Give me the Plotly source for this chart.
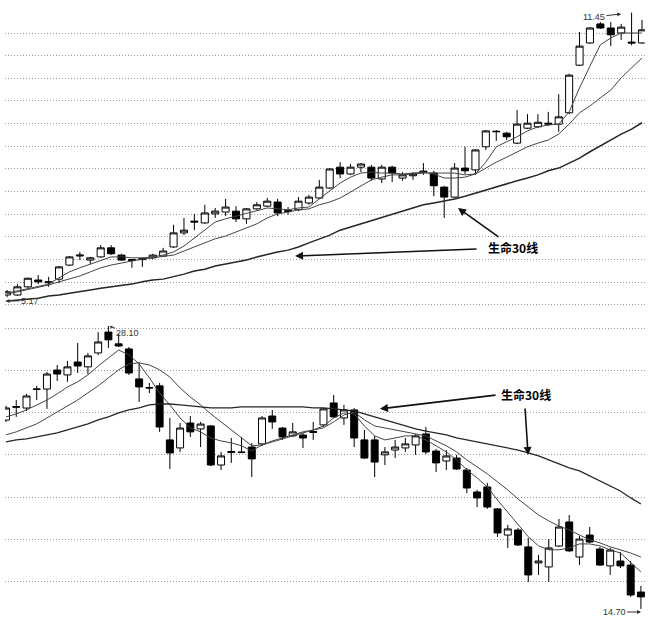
import plotly.graph_objects as go

# ---------------- top panel (uptrend) ----------------
top_open = [5.22, 5.22, 5.40, 5.55, 5.49, 5.57, 5.88, 6.08, 5.99, 6.06,
            6.26, 6.10, 5.98, 6.00, 6.04, 6.08, 6.28, 6.59, 6.85, 6.81,
            7.01, 7.05, 7.07, 6.90, 7.12, 7.18, 7.27, 7.06, 7.10, 7.25,
            7.36, 7.58, 8.04, 7.89, 8.04, 8.04, 7.78, 8.04, 7.80, 7.85,
            7.93, 7.91, 7.60, 7.38, 8.02, 7.98, 8.49, 8.82, 8.79, 8.57,
            8.90, 8.93, 9.01, 8.99, 9.24, 10.29, 10.78, 11.20, 11.11, 11.00,
            10.80, 10.78]
top_high = [5.33, 5.46, 5.60, 5.66, 5.62, 5.86, 6.08, 6.17, 6.06, 6.32,
            6.32, 6.13, 6.01, 6.04, 6.13, 6.26, 6.77, 6.92, 7.01, 7.21,
            7.14, 7.34, 7.18, 7.14, 7.27, 7.36, 7.34, 7.16, 7.38, 7.43,
            7.76, 8.02, 8.15, 8.11, 8.13, 8.09, 8.09, 8.07, 7.93, 7.93,
            8.13, 7.96, 7.63, 8.13, 8.49, 8.44, 8.86, 8.86, 8.82, 9.30,
            9.21, 9.21, 9.26, 9.65, 10.10, 11.02, 11.13, 11.24, 11.24, 11.20,
            11.45, 11.29]
top_low = [5.17, 5.20, 5.37, 5.46, 5.40, 5.48, 5.86, 5.99, 5.90, 6.04,
           6.10, 5.97, 5.82, 5.84, 6.01, 6.06, 6.26, 6.54, 6.65, 6.79,
           6.92, 6.96, 6.83, 6.79, 7.10, 7.16, 6.96, 6.99, 7.07, 7.21,
           7.34, 7.56, 7.80, 7.87, 7.93, 7.74, 7.69, 7.71, 7.74, 7.76,
           7.87, 7.40, 6.92, 7.36, 7.89, 7.87, 8.42, 8.62, 8.64, 8.55,
           8.88, 8.90, 8.95, 8.82, 9.21, 10.27, 10.76, 11.09, 10.71, 10.85,
           10.73, 10.76]
top_close = [5.29, 5.40, 5.59, 5.51, 5.51, 5.84, 6.06, 6.10, 6.04, 6.26,
             6.13, 5.99, 6.00, 6.02, 6.10, 6.19, 6.59, 6.65, 6.83, 7.03,
             7.07, 7.16, 6.90, 7.12, 7.21, 7.29, 7.03, 7.08, 7.29, 7.38,
             7.60, 8.00, 7.89, 8.04, 8.11, 7.80, 8.04, 7.91, 7.87, 7.89,
             7.95, 7.63, 7.38, 8.02, 7.96, 8.42, 8.84, 8.83, 8.71, 8.99,
             9.01, 9.03, 8.99, 9.15, 10.07, 10.71, 11.11, 11.11, 10.96, 11.13,
             10.78, 11.07]
top_ma5 = [5.26, 5.31, 5.37, 5.42, 5.46, 5.60, 5.73, 5.82, 5.90, 5.99,
           6.06, 6.06, 6.04, 6.04, 6.06, 6.10, 6.17, 6.30, 6.48, 6.65,
           6.83, 6.90, 6.96, 7.01, 7.07, 7.14, 7.12, 7.10, 7.14, 7.16,
           7.34, 7.51, 7.69, 7.82, 7.91, 7.93, 7.91, 7.91, 7.89, 7.91,
           7.93, 7.89, 7.80, 7.80, 7.82, 7.89, 8.15, 8.49, 8.60, 8.71,
           8.84, 8.93, 8.97, 8.99, 9.26, 9.79, 10.27, 10.74, 10.89, 11.00,
           11.00, 11.00]
top_ma10 = [5.24, 5.29, 5.35, 5.40, 5.44, 5.51, 5.57, 5.64, 5.73, 5.82,
            5.88, 5.93, 5.97, 6.01, 6.04, 6.06, 6.10, 6.19, 6.28, 6.37,
            6.46, 6.52, 6.61, 6.70, 6.79, 6.92, 7.01, 7.05, 7.10, 7.12,
            7.21, 7.27, 7.36, 7.49, 7.63, 7.76, 7.82, 7.87, 7.87, 7.89,
            7.91, 7.91, 7.91, 7.91, 7.87, 7.89, 8.02, 8.15, 8.26, 8.38,
            8.49, 8.57, 8.64, 8.77, 8.99, 9.24, 9.39, 9.57, 9.74, 10.01,
            10.23, 10.45]
top_ma30 = [5.09, 5.11, 5.13, 5.15, 5.20, 5.22, 5.26, 5.29, 5.33, 5.37,
            5.40, 5.44, 5.46, 5.51, 5.55, 5.57, 5.62, 5.68, 5.75, 5.79,
            5.86, 5.90, 5.95, 5.99, 6.06, 6.12, 6.17, 6.21, 6.28, 6.37,
            6.46, 6.54, 6.65, 6.72, 6.79, 6.87, 6.94, 7.01, 7.07, 7.14,
            7.21, 7.25, 7.29, 7.34, 7.40, 7.47, 7.54, 7.60, 7.67, 7.74,
            7.80, 7.87, 7.96, 8.02, 8.13, 8.24, 8.38, 8.51, 8.64, 8.77,
            8.88, 9.02]
top_grid = [5.0, 5.5, 6.0, 6.5, 7.0, 7.5, 8.0, 8.5, 9.0, 9.5, 10.0, 10.5, 11.0]

# ---------------- bottom panel (downtrend) ----------------
bot_open = [23.65, 24.25, 24.22, 25.10, 25.12, 26.02, 25.79, 26.40, 26.17, 26.83,
            27.82, 27.26, 27.02, 25.60, 25.19, 25.27, 22.71, 22.33, 23.51, 23.23,
            23.37, 21.52, 22.11, 22.14, 22.37, 22.52, 23.84, 23.27, 22.90, 22.94,
            23.06, 23.42, 24.46, 23.75, 24.13, 22.71, 22.71, 22.00, 22.23, 22.33,
            22.47, 22.99, 22.18, 21.71, 21.85, 21.28, 20.24, 20.48, 19.44, 18.20,
            18.44, 17.64, 16.88, 16.69, 17.68, 18.82, 17.16, 18.20, 17.54, 16.74,
            16.97, 16.78, 15.50]
bot_high = [24.32, 24.60, 24.89, 25.27, 25.93, 26.26, 26.45, 27.30, 26.83, 27.82,
            28.10, 27.73, 27.11, 26.36, 25.41, 25.41, 23.75, 23.51, 23.84, 23.56,
            23.42, 22.14, 22.80, 22.85, 22.56, 23.84, 24.13, 23.32, 23.51, 23.04,
            23.56, 24.22, 24.84, 24.37, 24.22, 23.18, 22.90, 22.37, 22.71, 22.80,
            22.99, 23.32, 22.28, 22.23, 22.00, 21.38, 20.34, 20.67, 19.48, 18.68,
            18.54, 18.06, 17.26, 18.01, 18.96, 19.15, 18.16, 18.58, 17.64, 17.59,
            17.40, 16.97, 15.79]
bot_low = [23.56, 23.80, 24.08, 24.60, 24.18, 25.50, 25.46, 25.88, 25.83, 26.73,
           27.07, 27.11, 25.79, 24.51, 24.93, 23.09, 21.33, 22.14, 22.85, 22.37,
           21.47, 21.28, 21.62, 22.09, 20.95, 22.42, 23.23, 22.71, 22.85, 22.33,
           22.71, 23.32, 23.75, 23.42, 22.37, 21.81, 20.95, 21.52, 21.85, 22.14,
           22.00, 22.04, 21.19, 21.28, 21.28, 20.19, 19.53, 19.44, 18.11, 17.59,
           17.68, 15.98, 16.31, 15.98, 17.64, 17.40, 16.78, 17.82, 16.74, 16.31,
           16.64, 15.27, 14.70]
bot_close = [24.22, 24.29, 24.79, 25.12, 25.83, 25.83, 26.17, 26.21, 26.69, 27.35,
             27.45, 27.16, 25.88, 25.22, 25.17, 23.32, 22.09, 23.27, 23.09, 23.46,
             21.52, 21.95, 22.16, 22.11, 21.81, 23.75, 23.56, 22.85, 23.09, 22.80,
             23.11, 24.18, 23.80, 24.13, 22.80, 21.85, 21.66, 22.14, 22.37, 22.52,
             22.90, 22.14, 21.62, 21.95, 21.33, 20.43, 19.96, 19.53, 18.30, 18.49,
             17.73, 16.31, 16.97, 17.59, 18.58, 17.45, 18.01, 17.87, 16.78, 17.49,
             16.74, 15.36, 15.27]
bot_ma5 = [23.80, 23.94, 24.13, 24.37, 24.60, 24.89, 25.22, 25.46, 25.79, 26.21,
           26.59, 26.97, 26.74, 26.31, 25.65, 24.93, 24.37, 23.75, 23.28, 23.09,
           22.80, 22.66, 22.57, 22.43, 22.19, 22.47, 22.66, 22.80, 22.95, 23.09,
           23.18, 23.37, 23.75, 23.99, 23.94, 23.37, 22.90, 22.71, 22.80, 22.90,
           22.90, 22.71, 22.43, 22.14, 21.76, 21.29, 20.91, 20.48, 19.86, 19.29,
           18.68, 18.12, 17.69, 17.50, 17.50, 17.59, 17.78, 17.78, 17.69, 17.50,
           17.35, 16.88, 16.45]
bot_ma10 = [22.95, 23.09, 23.28, 23.47, 23.75, 24.03, 24.32, 24.60, 24.94, 25.27,
            25.65, 26.03, 26.31, 26.36, 26.26, 26.03, 25.69, 25.17, 24.74, 24.37,
            23.94, 23.56, 23.18, 22.80, 22.43, 22.47, 22.62, 22.76, 22.90, 23.04,
            23.18, 23.28, 23.56, 23.89, 24.03, 23.66, 23.37, 23.28, 23.18, 23.09,
            22.99, 22.90, 22.66, 22.43, 22.14, 21.76, 21.43, 21.10, 20.72, 20.34,
            19.91, 19.53, 19.15, 18.87, 18.63, 18.44, 18.21, 17.97, 17.83, 17.64,
            17.50, 17.35, 17.16]
bot_ma30 = [22.62, 22.71, 22.76, 22.85, 22.95, 23.04, 23.18, 23.32, 23.47, 23.66,
            23.80, 23.99, 24.13, 24.23, 24.37, 24.41, 24.41, 24.37, 24.32, 24.27,
            24.23, 24.23, 24.23, 24.27, 24.27, 24.27, 24.27, 24.27, 24.27, 24.27,
            24.23, 24.23, 24.18, 24.13, 24.08, 23.94, 23.80, 23.66, 23.51, 23.37,
            23.23, 23.13, 23.04, 22.95, 22.80, 22.71, 22.62, 22.52, 22.43, 22.33,
            22.23, 22.09, 21.95, 21.76, 21.57, 21.38, 21.24, 21.00, 20.77, 20.53,
            20.29, 19.96, 19.67]
bot_grid = [16, 18, 20, 22, 24, 26, 28]

top_days = list(range(1, len(top_open) + 1))
bot_days = list(range(1, len(bot_open) + 1))

candle_style = dict(
    increasing=dict(line=dict(color="black", width=1), fillcolor="white"),
    decreasing=dict(line=dict(color="black", width=1), fillcolor="black"),
    whiskerwidth=0, showlegend=False, hoverinfo="skip",
)

fig = go.Figure()
fig.add_trace(go.Candlestick(x=top_days, open=top_open, high=top_high, low=top_low,
                             close=top_close, xaxis="x", yaxis="y", **candle_style))
fig.add_trace(go.Candlestick(x=bot_days, open=bot_open, high=bot_high, low=bot_low,
                             close=bot_close, xaxis="x2", yaxis="y2", **candle_style))

thin = dict(color="#444444", width=1)
for ys, ln in ((top_ma5, thin), (top_ma10, thin), (top_ma30, dict(color="#262626", width=1.5))):
    fig.add_trace(go.Scatter(x=top_days, y=ys, mode="lines", line=ln, xaxis="x", yaxis="y",
                             showlegend=False, hoverinfo="skip"))
for ys, ln in ((bot_ma5, thin), (bot_ma10, thin), (bot_ma30, dict(color="#262626", width=1.3))):
    fig.add_trace(go.Scatter(x=bot_days, y=ys, mode="lines", line=ln, xaxis="x2", yaxis="y2",
                             showlegend=False, hoverinfo="skip"))

xcommon = dict(showgrid=False, zeroline=False, showticklabels=False, ticks="",
               showline=False, rangeslider=dict(visible=False), fixedrange=True)
ycommon = dict(showgrid=True, gridcolor="#999999", gridwidth=1, griddash="1px,2px",
               zeroline=False, showticklabels=False, ticks="", showline=False, fixedrange=True)

cjk = "Noto Sans CJK SC"
small = dict(family="Liberation Sans, Arial", size=9, color="#333")
big = dict(family=cjk, size=12, color="black")
arrow = dict(showarrow=True, arrowhead=2, arrowsize=1, arrowwidth=1.6, arrowcolor="#111", text="")

annotations = [
    # top panel
    dict(x=49.61, y=6.268, xref="x", yref="y", text="<b>生命30线</b>", showarrow=False, font=big),
    dict(x=28.67, y=6.08, ax=46.25, ay=6.235, xref="x", yref="y", axref="x", ayref="y", **arrow),
    dict(x=44.32, y=7.139, ax=48.36, ay=6.478, xref="x", yref="y", axref="x", ayref="y", **arrow),
    dict(x=0.85, y=5.09, ax=3.21, ay=5.09, xref="x", yref="y", axref="x", ayref="y",
         text="5.17", font=small, showarrow=True, arrowhead=2, arrowsize=0.8, arrowwidth=1,
         arrowcolor="#333", standoff=0),
    dict(x=60, y=11.42, ax=57.39, ay=11.353, xref="x", yref="y", axref="x", ayref="y",
         text="11.45", font=small, showarrow=True, arrowhead=2, arrowsize=0.8, arrowwidth=1,
         arrowcolor="#333", standoff=0),
    # bottom panel
    dict(x=51.78, y=24.84, xref="x2", yref="y2", text="<b>生命30线</b>", showarrow=False, font=big),
    dict(x=37.52, y=24.18, ax=48.95, ay=24.84, xref="x2", yref="y2", axref="x2", ayref="y2", **arrow),
    dict(x=51.98, y=21.995, ax=51.68, ay=24.27, xref="x2", yref="y2", axref="x2", ayref="y2", **arrow),
    dict(x=11.1, y=28.10, ax=12.91, ay=27.78, xref="x2", yref="y2", axref="x2", ayref="y2",
         text="28.10", font=small, showarrow=True, arrowhead=2, arrowsize=0.6, arrowwidth=1,
         arrowcolor="#333", standoff=0),
    dict(x=63.01, y=14.556, ax=60.375, ay=14.556, xref="x2", yref="y2", axref="x2", ayref="y2",
         text="14.70", font=small, showarrow=True, arrowhead=2, arrowsize=0.8, arrowwidth=1,
         arrowcolor="#333", standoff=0),
]

fig.update_layout(
    width=653, height=621,
    margin=dict(l=5, r=8, t=0, b=0),
    paper_bgcolor="white", plot_bgcolor="white",
    showlegend=False,
    boxgap=0.15, boxgroupgap=0.2,
    xaxis=dict(domain=[0, 1], range=[0.808, 62.288], anchor="y", **xcommon),
    yaxis=dict(domain=[0.4976, 1], range=[4.845, 11.728], tickvals=top_grid, anchor="x", **ycommon),
    xaxis2=dict(domain=[0, 1], range=[0.902, 63.399], anchor="y2", **xcommon),
    yaxis2=dict(domain=[0, 0.488], range=[14.128, 28.488], tickvals=bot_grid, anchor="x2", **ycommon),
    annotations=annotations,
)

fig.write_html("out.html", post_script="document.body.style.margin='0';",
               config={"displayModeBar": False, "staticPlot": True})
